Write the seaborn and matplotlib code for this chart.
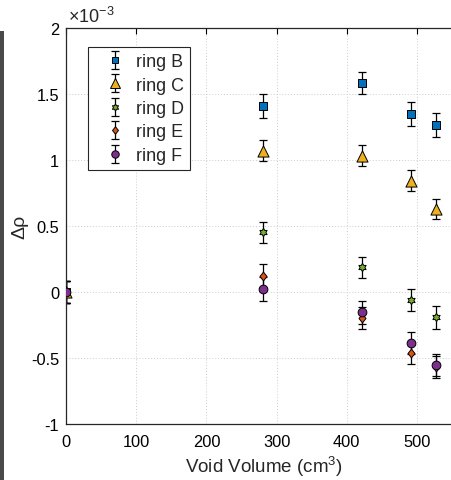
import numpy as np
import pandas as pd
import matplotlib
matplotlib.use("Agg")
import matplotlib.pyplot as plt
from matplotlib.path import Path
from matplotlib.lines import Line2D
from matplotlib.patches import Rectangle
import seaborn as sns

# Void volume (cm^3) at which each ring was measured
void_volume = [0, 281, 421, 492, 527]

# Density change per ring, in units of 1e-3
ring_names = ["ring B", "ring C", "ring D", "ring E", "ring F"]
rho_B = [0.0, 1.407, 1.583, 1.348, 1.265]
rho_C = [0.0, 1.070, 1.033, 0.843, 0.629]
rho_D = [0.0, 0.452, 0.187, -0.061, -0.192]
rho_E = [0.0, 0.124, -0.199, -0.462, -0.570]
rho_F = [0.0, 0.020, -0.154, -0.386, -0.553]

err_B = [0.085, 0.090, 0.085, 0.090, 0.090]
err_C = [0.085, 0.078, 0.078, 0.078, 0.078]
err_D = [0.085, 0.080, 0.080, 0.080, 0.088]
err_E = [0.085, 0.090, 0.085, 0.085, 0.085]
err_F = [0.085, 0.090, 0.085, 0.085, 0.085]

x_ticks = [0, 100, 200, 300, 400, 500]
y_ticks = [-1, -0.5, 0, 0.5, 1, 1.5, 2]
y_tick_labels = ["-1", "-0.5", "0", "0.5", "1", "1.5", "2"]

values = [rho_B, rho_C, rho_D, rho_E, rho_F]
errors = [err_B, err_C, err_D, err_E, err_F]

df = pd.DataFrame({
    "volume": np.tile(void_volume, len(ring_names)),
    "drho": np.concatenate(values),
    "err": np.concatenate(errors),
    "ring": np.repeat(ring_names, len(void_volume)),
})

sns.set_theme(style="white")
plt.rcParams["font.family"] = ["Liberation Sans", "DejaVu Sans"]
plt.rcParams["axes.unicode_minus"] = False
plt.rcParams["mathtext.fontset"] = "custom"
plt.rcParams["mathtext.rm"] = "Liberation Sans"
plt.rcParams["mathtext.it"] = "Liberation Sans:italic"

# MATLAB-like colour order
palette = {
    "ring B": "#0072BD",
    "ring C": "#EDB120",
    "ring D": "#77AC30",
    "ring E": "#D95319",
    "ring F": "#7E2F8E",
}
hexagram = Path.unit_regular_star(6, 0.57735)
diamond = Path([(0, 1), (0.8, 0), (0, -1), (-0.8, 0), (0, 1)],
               [Path.MOVETO, Path.LINETO, Path.LINETO, Path.LINETO, Path.CLOSEPOLY])
markers = {"ring B": "s", "ring C": "^", "ring D": hexagram,
           "ring E": diamond, "ring F": "o"}
sizes = {"ring B": 5.4, "ring C": 8.0, "ring D": 6.0, "ring E": 6.3, "ring F": 6.3}

# the plotting box runs past the right edge of the canvas (x up to 600)
fig = plt.figure(figsize=(4.52, 4.81), dpi=100)
ax = fig.add_axes([66 / 452, 56 / 481, 421.2 / 452, 396 / 481])
ax.patch.set_visible(False)

handles = []
for name in ring_names:
    sub = df[df["ring"] == name]
    eb = ax.errorbar(sub["volume"], sub["drho"], yerr=sub["err"], fmt="none",
                     ecolor="black", elinewidth=0.9, capsize=2.6, capthick=0.9,
                     zorder=2)
    sns.scatterplot(data=sub, x="volume", y="drho", marker=markers[name],
                    color=palette[name], edgecolor="black", linewidth=0.7,
                    s=sizes[name] ** 2, legend=False, zorder=3, ax=ax)
    proxy = Line2D([], [], linestyle="none", marker=markers[name],
                   markersize=sizes[name] * 0.85, markerfacecolor=palette[name],
                   markeredgecolor="black", markeredgewidth=0.7)
    handles.append((eb, proxy))

ax.set_xlim(0, 600)
ax.set_ylim(-1, 2)
ax.set_xticks(x_ticks)
ax.set_xticklabels([str(t) for t in x_ticks])
ax.set_yticks(y_ticks)
ax.set_yticklabels(y_tick_labels)
ax.tick_params(axis="both", which="major", direction="in", length=4, width=0.8,
               labelsize=11.8, colors="black", top=True, right=False)
ax.tick_params(axis="x", pad=7)
ax.tick_params(axis="y", pad=5)
ax.grid(True, linestyle=(0, (1, 2)), color="#cccccc", linewidth=0.7)
for side in ["left", "bottom", "top"]:
    ax.spines[side].set_color("#262626")
    ax.spines[side].set_linewidth(0.9)
ax.spines["right"].set_visible(False)

ax.set_xlabel("Void Volume (cm$^3$)", fontsize=13.5, color="#262626")
ax.xaxis.set_label_coords((264 - 66) / 421.2, -0.075)
ax.set_ylabel("Δρ", fontsize=14, color="#262626")
ax.yaxis.set_label_coords(-0.090, 0.5)
ax.text(0.005, 1.004, r"$\times$10$^{-3}$", transform=ax.transAxes,
        fontsize=13, ha="left", va="bottom", color="#262626")

leg = ax.legend(handles, ring_names, loc="upper left",
                bbox_to_anchor=(22.3 / 421.2, 0.951), borderaxespad=0,
                fontsize=12.9, handlelength=2.3, handletextpad=0.05,
                labelspacing=0.36, borderpad=0.32, fancybox=False,
                framealpha=1, edgecolor="#262626")
leg.get_frame().set_linewidth(0.8)

# dark strip along the left edge of the figure
fig.patches.append(Rectangle((0, 0), 4 / 452, 449 / 481, transform=fig.transFigure,
                             facecolor="#4a4a4a", edgecolor="none", zorder=0))

fig.savefig("out.png", dpi=100)
